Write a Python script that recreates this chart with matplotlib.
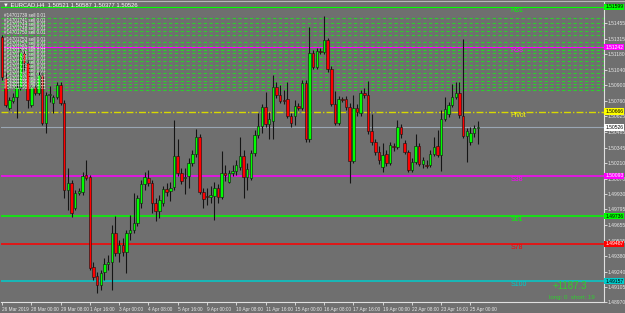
import matplotlib
matplotlib.use("Agg")
import matplotlib.pyplot as plt
from matplotlib.lines import Line2D

plt.rcParams["font.family"] = ["Liberation Sans", "DejaVu Sans"]

# EURCAD H4 bars, 26 Mar 16:00 -> 25 Apr 04:00 (2019)
opens = [1.51331, 1.50966, 1.50699, 1.50761, 1.50797, 1.50886, 1.51189, 1.51100, 1.50725, 1.50886,
         1.50832, 1.50993, 1.50565, 1.50815, 1.50743, 1.50797, 1.50904, 1.50743, 1.49968, 1.50030,
         1.49808, 1.49941, 1.49950, 1.50102, 1.50084, 1.49282, 1.49202, 1.49122, 1.49237, 1.49309,
         1.49327, 1.49585, 1.49407, 1.49478, 1.49416, 1.49585, 1.49611, 1.49674, 1.49852, 1.50021,
         1.50075, 1.50030, 1.49852, 1.49781, 1.49852, 1.49977, 1.49959, 1.49995, 1.50271, 1.50119,
         1.50075, 1.50093, 1.50209, 1.50289, 1.50440, 1.49950, 1.49915, 1.49906, 1.49915, 1.49986,
         1.49906, 1.50119, 1.50039, 1.50119, 1.50137, 1.50173, 1.50271, 1.50084, 1.50075, 1.50298,
         1.50458, 1.50538, 1.50708, 1.50556, 1.50583, 1.50886, 1.50815, 1.50770, 1.50779, 1.50627,
         1.50627, 1.50717, 1.50699, 1.50922, 1.50422, 1.51189, 1.51064, 1.51207, 1.51198, 1.51305,
         1.51046, 1.50734, 1.50565, 1.50779, 1.50779, 1.50708, 1.50226, 1.50699, 1.50654, 1.50832,
         1.50815, 1.50494, 1.50396, 1.50307, 1.50173, 1.50289, 1.50209, 1.50360, 1.50351, 1.50529,
         1.50387, 1.50307, 1.50146, 1.50218, 1.50360, 1.50200, 1.50191, 1.50191, 1.50289, 1.50360,
         1.50280, 1.50601, 1.50645, 1.50725, 1.50797, 1.50832, 1.50627, 1.50449, 1.50396, 1.50476,
         1.50521]
highs = [1.51349, 1.51020, 1.50797, 1.50832, 1.50913, 1.51233, 1.51216, 1.51126, 1.50913, 1.50904,
         1.51020, 1.51020, 1.50841, 1.50895, 1.50815, 1.50930, 1.50930, 1.50770, 1.50164, 1.50057,
         1.49968, 1.49986, 1.50128, 1.50235, 1.50102, 1.49327, 1.49237, 1.49255, 1.49362, 1.49389,
         1.49656, 1.49736, 1.49523, 1.49540, 1.49611, 1.49745, 1.49941, 1.49924, 1.50057, 1.50128,
         1.50146, 1.50057, 1.49897, 1.49924, 1.50004, 1.50030, 1.50039, 1.50592, 1.50422, 1.50164,
         1.50164, 1.50253, 1.50325, 1.50512, 1.50467, 1.49986, 1.49986, 1.50004, 1.50039, 1.50021,
         1.50316, 1.50191, 1.50146, 1.50191, 1.50235, 1.50440, 1.50325, 1.50209, 1.50325, 1.50503,
         1.50654, 1.50734, 1.50841, 1.50663, 1.50993, 1.50930, 1.50904, 1.50859, 1.50930, 1.50654,
         1.50770, 1.50743, 1.50948, 1.50948, 1.51420, 1.51216, 1.51233, 1.51233, 1.51518, 1.51322,
         1.51073, 1.50850, 1.50806, 1.50797, 1.50806, 1.50743, 1.50815, 1.50734, 1.50859, 1.50877,
         1.50939, 1.50645, 1.50422, 1.50360, 1.50387, 1.50325, 1.50396, 1.50387, 1.50592, 1.50556,
         1.50413, 1.50325, 1.50253, 1.50467, 1.50387, 1.50262, 1.50235, 1.50325, 1.50440, 1.50503,
         1.50681, 1.50797, 1.50752, 1.50913, 1.50930, 1.50930, 1.51314, 1.50520, 1.50529, 1.50547,
         1.50587]
lows = [1.50948, 1.50708, 1.50681, 1.50743, 1.50610, 1.50859, 1.51037, 1.50699, 1.50708, 1.50815,
        1.50815, 1.50547, 1.50476, 1.50752, 1.50654, 1.50779, 1.50725, 1.49897, 1.49790, 1.49727,
        1.49790, 1.49924, 1.49924, 1.50057, 1.49255, 1.49166, 1.49050, 1.49077, 1.49166, 1.49255,
        1.49077, 1.49380, 1.49327, 1.49380, 1.49229, 1.49523, 1.49585, 1.49647, 1.49808, 1.49968,
        1.50004, 1.49763, 1.49691, 1.49718, 1.49826, 1.49915, 1.49870, 1.49968, 1.50093, 1.50021,
        1.49932, 1.49986, 1.50182, 1.50262, 1.49932, 1.49808, 1.49834, 1.49852, 1.49700, 1.49852,
        1.49888, 1.50048, 1.50030, 1.50093, 1.50102, 1.50146, 1.49897, 1.49968, 1.50057, 1.50271,
        1.50431, 1.50476, 1.50529, 1.50422, 1.50422, 1.50788, 1.50743, 1.50734, 1.50610, 1.50529,
        1.50547, 1.50681, 1.50681, 1.50396, 1.50396, 1.51046, 1.51046, 1.51180, 1.51180, 1.51020,
        1.50717, 1.50547, 1.50547, 1.50752, 1.50681, 1.50030, 1.50209, 1.50627, 1.50627, 1.50788,
        1.50467, 1.50369, 1.50280, 1.50200, 1.50128, 1.50182, 1.50191, 1.50316, 1.50333, 1.50431,
        1.50289, 1.50128, 1.50128, 1.50200, 1.50182, 1.50164, 1.50164, 1.50173, 1.50271, 1.50262,
        1.50137, 1.50583, 1.50619, 1.50708, 1.50779, 1.50610, 1.50431, 1.50218, 1.50369, 1.50440,
        1.50377]
closes = [1.50975, 1.50725, 1.50770, 1.50797, 1.50886, 1.51198, 1.51100, 1.50770, 1.50886, 1.50832,
          1.50993, 1.50565, 1.50815, 1.50824, 1.50797, 1.50904, 1.50743, 1.49968, 1.50030, 1.49763,
          1.49941, 1.49959, 1.50093, 1.50075, 1.49273, 1.49193, 1.49122, 1.49229, 1.49309, 1.49327,
          1.49585, 1.49407, 1.49478, 1.49416, 1.49585, 1.49611, 1.49674, 1.49897, 1.50021, 1.50084,
          1.50030, 1.49852, 1.49781, 1.49879, 1.49977, 1.49950, 1.49986, 1.50271, 1.50119, 1.50048,
          1.50084, 1.50209, 1.50289, 1.50440, 1.49950, 1.49888, 1.49906, 1.49924, 1.49986, 1.49906,
          1.50119, 1.50102, 1.50119, 1.50137, 1.50191, 1.50271, 1.50084, 1.50155, 1.50298, 1.50458,
          1.50538, 1.50708, 1.50556, 1.50601, 1.50886, 1.50815, 1.50761, 1.50761, 1.50627, 1.50565,
          1.50717, 1.50699, 1.50922, 1.50422, 1.51189, 1.51064, 1.51207, 1.51198, 1.51305, 1.51046,
          1.50734, 1.50565, 1.50779, 1.50770, 1.50708, 1.50226, 1.50699, 1.50663, 1.50832, 1.50815,
          1.50494, 1.50396, 1.50307, 1.50235, 1.50280, 1.50209, 1.50369, 1.50351, 1.50529, 1.50467,
          1.50307, 1.50146, 1.50218, 1.50360, 1.50200, 1.50235, 1.50182, 1.50289, 1.50351, 1.50280,
          1.50601, 1.50690, 1.50725, 1.50797, 1.50832, 1.50636, 1.50449, 1.50494, 1.50476, 1.50520,
          1.50526]

date_labels = ["26 Mar 2019", "28 Mar 00:00", "29 Mar 08:00", "1 Apr 16:00", "3 Apr 00:00",
               "4 Apr 08:00", "5 Apr 16:00", "9 Apr 00:00", "10 Apr 08:00", "11 Apr 16:00",
               "15 Apr 00:00", "16 Apr 08:00", "17 Apr 16:00", "19 Apr 00:00", "22 Apr 08:00",
               "23 Apr 16:00", "25 Apr 00:00"]
price_ticks = [1.48970, 1.49105, 1.49240, 1.49380, 1.49515, 1.49655, 1.49795, 1.49930, 1.50070,
               1.50210, 1.50345, 1.50485, 1.50625, 1.50760, 1.50900, 1.51040, 1.51180, 1.51315,
               1.51455]

# pivot / fibo levels
level_names = ["R61", "R38", "Pivot", "S38", "S61", "S78", "S100"]
level_prices = [1.51599, 1.51242, 1.50666, 1.50093, 1.49736, 1.49487, 1.49157]
level_colors = ["#00ff00", "#ff00ff", "#ffff00", "#ff00ff", "#00ff00", "#ff0000", "#00cccc"]

# open sell orders
order_tickets = [14701739, 14701741, 14701744, 14701748, 14701750, 14701753, 14701757,
                 14701760, 14701762, 14701765, 14701769, 14701771, 14701774, 14701778,
                 14701780, 14701783, 14701786, 14701790, 14701793]
order_prices = [1.51498, 1.51453, 1.51423, 1.51387, 1.51349, 1.51289, 1.51251, 1.51216,
                1.51186, 1.51156, 1.51120, 1.51082, 1.51043, 1.51008, 1.50978, 1.50942,
                1.50913, 1.50883, 1.50859]

bid = 1.50526
profit = "+1187.3"

W, H = 625, 313
bg = "#6f6f6f"
fig = plt.figure(figsize=(W / 100, H / 100), dpi=100, facecolor=bg)
ax = fig.add_axes([1 / W, 1 - 302 / H, 603 / W, 300 / H], facecolor=bg)

n = len(closes)
xs = list(range(n))

# order lines
for t, p in zip(order_tickets, order_prices):
    ax.axhline(p, color="#2ecc2e", lw=0.8, ls=(0, (3, 2.2)), zorder=1)
    ax.text(0.6, p, "#%d sell 0.01" % t, fontsize=3.3, color="#f0f0f0",
            va="bottom", ha="left", zorder=6)

# levels
for name, p, c in zip(level_names, level_prices, level_colors):
    if name == "Pivot":
        ax.axhline(p, color="#d8d800", lw=1.0, ls=(0, (5, 1.5, 1, 1.5)), zorder=1)
    else:
        ax.axhline(p, color=c, lw=1.1 if name in ("S38", "S61", "S78", "S100") else 0.8, zorder=1)
    ax.text(139, p - 0.00004, name, fontsize=5, color=c, va="top", ha="left", zorder=6)

ax.axhline(bid, color="#9aa6b4", lw=0.8, zorder=1)

# candles
for i in xs:
    o, h, l, c = opens[i], highs[i], lows[i], closes[i]
    ax.vlines(i, l, h, color="#141414", lw=0.8, zorder=3)
    col = "#00ff00" if c >= o else "#ff0000"
    body = max(abs(c - o), 0.000025)
    ax.bar(i, body, bottom=min(o, c), width=0.68, color=col,
           edgecolor="#111111", linewidth=0.4, zorder=4)

ax.set_xlim(-0.27, 164.48)
ax.set_ylim(1.48970, 1.51643)

ax.set_xticks(list(range(0, 8 * len(date_labels), 8)))
ax.set_xticklabels(date_labels, ha="left")
ax.set_yticks(price_ticks)
ax.set_yticklabels(["%.5f" % v for v in price_ticks])
ax.yaxis.tick_right()
ax.tick_params(axis="x", colors="#e6e6e6", labelsize=3.4, length=2, width=0.6, pad=1.5)
ax.tick_params(axis="y", colors="#e6e6e6", labelsize=3.6, length=2, width=0.6, pad=0.8)
for s in ["top", "left"]:
    ax.spines[s].set_visible(False)
for s in ["right", "bottom"]:
    ax.spines[s].set_color("#e0e0e0")
    ax.spines[s].set_linewidth(0.8)

# price tags on the right scale
tag_text = {"#00ff00": "black", "#ff00ff": "white", "#ffff00": "black",
            "#ff0000": "white", "#00cccc": "black"}
for p, c in zip(level_prices, level_colors):
    ax.text(1.002, p, "%.5f" % p, transform=ax.get_yaxis_transform(), fontsize=3.6,
            color=tag_text[c], va="center", ha="left",
            bbox=dict(boxstyle="square,pad=0.15", fc=c, ec="none"), clip_on=False, zorder=7)
ax.text(1.002, bid, "%.5f" % bid, transform=ax.get_yaxis_transform(), fontsize=3.6,
        color="black", va="center", ha="left",
        bbox=dict(boxstyle="square,pad=0.15", fc="white", ec="none"), clip_on=False, zorder=7)

# header and account info
fig.text(3 / W, 1 - 4.5 / H, "\u25bc EURCAD,H4  1.50521 1.50587 1.50377 1.50526",
         fontsize=4.2, color="white", va="center", ha="left")
fig.add_artist(Line2D([0, 1], [1 - 1 / H, 1 - 1 / H], color="#b8b8b8", lw=0.8))
fig.text(570 / W, 1 - 286 / H, profit, fontsize=7, color="#2fd02f", va="center", ha="center")
fig.text(572 / W, 1 - 298 / H, "long: 0  short: 19", fontsize=4.4, color="#2fd02f",
         va="center", ha="center")

fig.savefig("out.png", dpi=100, facecolor=bg)
